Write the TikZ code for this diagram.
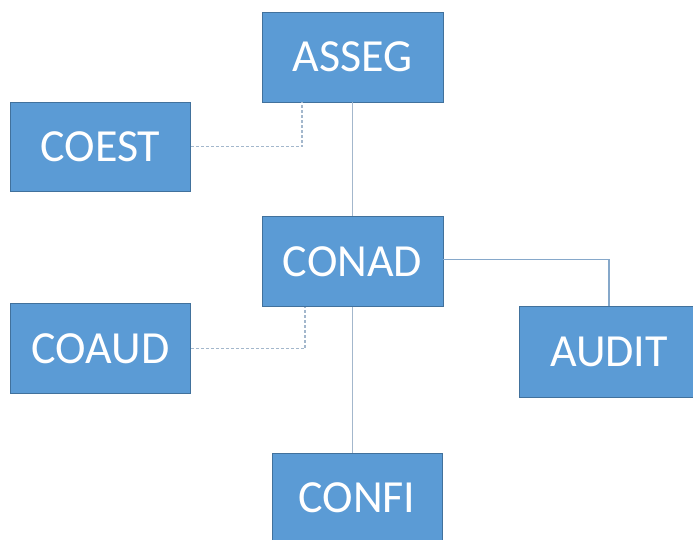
\documentclass[tikz,border=0pt]{standalone}
\usepackage{fontspec}
\setmainfont{Carlito}
\definecolor{boxfill}{HTML}{5B9BD5}
\definecolor{boxline}{HTML}{41719C}
\definecolor{conn}{HTML}{A3B7CC}
\definecolor{connb}{HTML}{86A8CA}
\begin{document}
\begin{tikzpicture}[x=1pt,y=1pt,
  orgbox/.style={rectangle, fill=boxfill, draw=boxline, line width=0.8pt,
    inner sep=0pt, text=white, font=\fontsize{46}{46}\selectfont},
  solidconn/.style={draw=conn, line width=1.7pt},
  dashconn/.style={draw=conn, line width=1.4pt, dash pattern=on 3pt off 2pt}]
\useasboundingbox (0,0) rectangle (693,540);
\clip (0,0) rectangle (693,540);
\node[orgbox, minimum width=181pt, minimum height=90pt] (asseg) at (352.5,483) {ASSEG};
\node[orgbox, minimum width=180pt, minimum height=89pt] (coest) at (100.5,393.5) {COEST};
\node[orgbox, minimum width=181pt, minimum height=90pt] (conad) at (352.5,278.5) {CONAD};
\node[orgbox, minimum width=180pt, minimum height=90pt] (coaud) at (100.5,191.5) {COAUD};
\node[orgbox, minimum width=180pt, minimum height=91pt] (audit) at (609,188) {AUDIT};
\node[orgbox, minimum width=170pt, minimum height=90pt] (confi) at (357,42) {CONFI};
\draw[solidconn] (asseg.south) -- (conad.north);
\draw[solidconn] (conad.south) -- (conad.south |- confi.north);
\draw[draw=connb, line width=1.3pt] ([yshift=2pt]conad.east) -| (audit.north);
\draw[dashconn] (coest.east) -| ([xshift=-50.5pt]asseg.south);
\draw[dashconn] (coaud.east) -| ([xshift=-47.5pt]conad.south);
\end{tikzpicture}
\end{document}
